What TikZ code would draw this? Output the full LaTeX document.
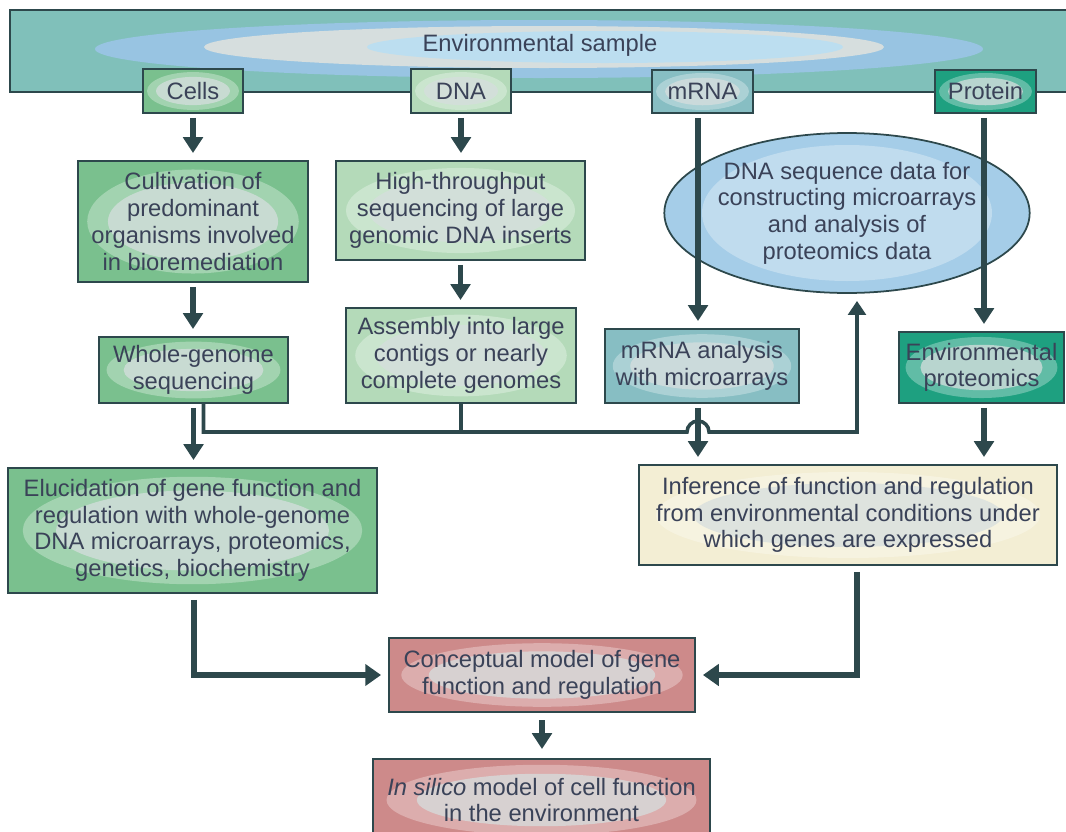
\documentclass[tikz,border=0pt]{standalone}
\usepackage{fontspec}
\setmainfont{Liberation Sans}
\usetikzlibrary{arrows.meta,calc,shapes.geometric}

\definecolor{bord}{RGB}{45,72,76}
\definecolor{encre}{RGB}{58,66,88}
\definecolor{bande}{RGB}{128,192,186}
\definecolor{halobleu}{RGB}{152,196,226}
\definecolor{halogris}{RGB}{214,222,222}
\definecolor{haloclair}{RGB}{188,222,240}
\definecolor{vert}{RGB}{122,192,142}
\definecolor{vertclair}{RGB}{180,218,185}
\definecolor{bleuvert}{RGB}{135,190,195}
\definecolor{proteine}{RGB}{30,160,128}
\definecolor{bleuciel}{RGB}{165,205,232}
\definecolor{creme}{RGB}{243,238,212}
\definecolor{rose}{RGB}{205,138,138}

\begin{document}
\begin{tikzpicture}[x=0.02cm,y=-0.02cm]

\tikzset{
    lueur/.style={
        path picture={
            \coordinate (pa) at (path picture bounding box.south west);
            \coordinate (pb) at (path picture bounding box.north east);
            \fill[white,opacity=.3] let \p1=($(pb)-(pa)$) in
                ($(pa)!.5!(pb)$) ellipse [x radius=.46*\x1, y radius=.43*\y1];
            \fill[halogris,opacity=.75] let \p1=($(pb)-(pa)$) in
                ($(pa)!.5!(pb)$) ellipse [x radius=.37*\x1, y radius=.32*\y1];
        }
    },
    boite/.style={
        draw=bord, line width=1.1pt, inner sep=0pt, align=center,
        text=encre, font=\fontsize{13.5}{15.2}\selectfont, lueur
    },
    bulle/.style={
        ellipse, draw=bord, line width=1pt, fill=bleuciel, inner sep=0pt,
        align=center, text=encre, font=\fontsize{13.5}{15.2}\selectfont,
        minimum width=6.4cm, minimum height=3.2cm,
        path picture={
            \fill[white,opacity=.3] (path picture bounding box.center)
                ellipse [x radius=145, y radius=68];
        }
    },
    fleche/.style={
        draw=bord, line width=3pt, -{Triangle[width=11pt,length=9pt]},
        shorten <=0.08cm, shorten >=0.14cm
    },
    grosse/.style={
        draw=bord, line width=3.8pt, -{Triangle[width=12pt,length=9pt]},
        shorten <=0.12cm, shorten >=0.14cm
    },
    ligne/.style={draw=bord, line width=2pt}
}

\clip (0,0) rectangle (1066,832);

% Bande du haut
\draw[bord, line width=1.1pt, fill=bande] (10,10) rectangle (1080,92);
\fill[halobleu] (539,49) ellipse (444 and 29);
\fill[halogris] (544,47) ellipse (340 and 21);
\fill[haloclair] (605,47) ellipse (238 and 16);
\node[text=encre, font=\fontsize{13.5}{15.2}\selectfont] (echant) at (540,45) {Environmental sample};

% Premiere rangee
\node[boite, fill=vert, minimum width=2cm, minimum height=0.88cm] (cells) at (193,91) {Cells};
\node[boite, fill=vertclair, minimum width=2cm, minimum height=0.88cm] (dna) at (461,91) {DNA};
\node[boite, fill=bleuvert, minimum width=2.02cm, minimum height=0.86cm] (mrna) at (702.5,91.5) {mRNA};
\node[boite, fill=proteine, minimum width=2.02cm, minimum height=0.86cm] (prot) at (985.5,91.5) {Protein};

% Deuxieme rangee
\node[boite, fill=vert, minimum width=4.6cm, minimum height=2.42cm] (cult) at (193,221.5)
    {Cultivation of\\predominant\\organisms involved\\in bioremediation};
\node[boite, fill=vertclair, minimum width=4.98cm, minimum height=1.98cm] (haut) at (460.5,210.5)
    {High-throughput\\sequencing of large\\genomic DNA inserts};
\node[bulle] (ell) at (847,213)
    {DNA sequence data for\\constructing microarrays\\and analysis of\\proteomics data};

% Troisieme rangee
\node[boite, fill=vert, minimum width=3.78cm, minimum height=1.32cm] (whole) at (193.5,370)
    {Whole-genome\\sequencing};
\node[boite, fill=vertclair, minimum width=4.6cm, minimum height=1.9cm] (assem) at (461,355.5)
    {Assembly into large\\contigs or nearly\\complete genomes};
\node[boite, fill=bleuvert, minimum width=3.88cm, minimum height=1.48cm] (mana) at (702,366)
    {mRNA analysis\\with microarrays};
\node[boite, fill=proteine, minimum width=3.3cm, minimum height=1.42cm] (envp) at (981.5,367.5)
    {Environmental\\proteomics};

% Quatrieme rangee
\node[boite, fill=vert, minimum width=7.38cm, minimum height=2.5cm] (eluc) at (192.5,530.5)
    {Elucidation of gene function and\\regulation with whole-genome\\DNA microarrays, proteomics,\\genetics, biochemistry};
\node[boite, fill=creme, minimum width=8.36cm, minimum height=2cm] (infer) at (848,515)
    {Inference of function and regulation\\from environmental conditions under\\which genes are expressed};

% Modeles
\node[boite, fill=rose, minimum width=6.12cm, minimum height=1.48cm] (concept) at (542,675)
    {Conceptual model of gene\\function and regulation};
\node[boite, fill=rose, minimum width=6.74cm, minimum height=1.64cm] (silico) at (541.5,800)
    {\textit{In silico} model of cell function\\in the environment};

% Fleches
\coordinate (bus) at (0,432);
\coordinate (m1) at ([xshift=-0.08cm]mana.south);

\draw[fleche] (cells.south) -- (cells.south |- cult.north);
\draw[fleche] (dna.south) -- (dna.south |- haut.north);
\draw[fleche] ([xshift=-0.09cm]mrna.south) -- ([xshift=-0.09cm]mrna.south |- mana.north);
\draw[fleche] ([xshift=-0.03cm]prot.south) -- ([xshift=-0.03cm]prot.south |- envp.north);
\draw[fleche] (cult.south) -- (cult.south |- whole.north);
\draw[fleche] (haut.south) -- (haut.south |- assem.north);
\draw[fleche] (whole.south) -- (whole.south |- eluc.north);
\draw[fleche] (m1) -- (m1 |- infer.north);
\draw[fleche] ([xshift=0.05cm]envp.south) -- ([xshift=0.05cm]envp.south |- infer.north);

% Liaison vers l'ellipse
\draw[ligne] (assem.south) -- (assem.south |- bus);
\draw[ligne, -{Triangle[width=10pt,length=8pt]}, shorten >=0.14cm]
    ([xshift=0.2cm]whole.south) |- ([xshift=-0.22cm]m1 |- bus)
    arc[start angle=180, end angle=360, radius=11]
    -| ([xshift=0.2cm]ell.south);

% Vers le modele
\draw[grosse] ([xshift=0.03cm]eluc.south) |- (concept.west);
\draw[grosse] ([xshift=0.18cm]infer.south) |- (concept.east);
\draw[fleche, shorten <=0.15cm, shorten >=0.18cm] (concept.south) -- (concept.south |- silico.north);

\end{tikzpicture}
\end{document}
